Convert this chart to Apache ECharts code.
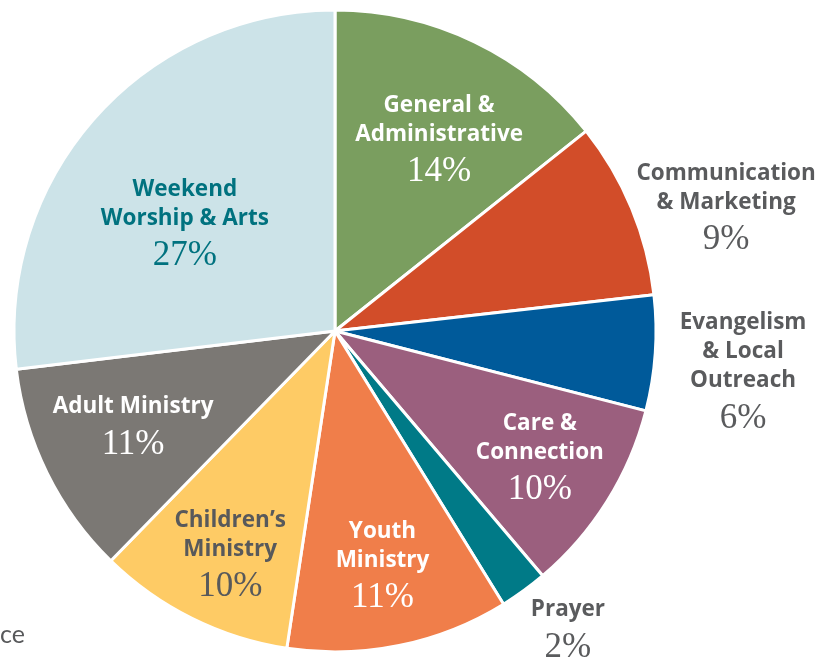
<!DOCTYPE html>
<html>
<head>
<meta charset="utf-8">
<script src="https://cdn.jsdelivr.net/npm/echarts@6/dist/echarts.min.js"></script>
<style>
html,body{margin:0;padding:0;background:#fff;}
#chart{width:835px;height:659px;}
</style>
</head>
<body>
<div id="chart"></div>
<script>
// Data
const categories = [
  'General &\nAdministrative',
  'Communication\n& Marketing',
  'Evangelism\n& Local\nOutreach',
  'Care &\nConnection',
  'Prayer',
  'Youth\nMinistry',
  'Children\u2019s\nMinistry',
  'Adult Ministry',
  'Weekend\nWorship & Arts'
];
const values = [14.3, 8.9, 5.8, 9.8, 2.4, 11.2, 9.9, 10.8, 26.9];

// Styles (colours and label placement)
const colors = ['#7a9e5f', '#d24d29', '#005a9a', '#9b5f7e', '#007a87', '#f07e4a', '#fecb65', '#7b7874', '#cce3e8'];
const labelColors = ['#ffffff', '#5a5b5d', '#5a5b5d', '#ffffff', '#5a5b5d', '#ffffff', '#58595b', '#ffffff', '#00727f'];
const labelRadius = [0.683, 1.279, 1.277, 0.748, 1.176, 0.741, 0.765, 0.694, 0.578];
const labelAngleShift = [2.6, 4.8, 1.5, -0.6, -2.1, 0, -1.2, 1.3, -5.6];

const CX = 335, CY = 331, R = 321;
const total = values.reduce((a, b) => a + b, 0);
const midAngles = [];
let acc = 0;
values.forEach(v => { midAngles.push((acc + v / 2) / total * 360); acc += v; });

const chart = echarts.init(document.getElementById('chart'), null, {renderer: 'canvas'});
const option = {
  backgroundColor: '#ffffff',
  animation: false,
  graphic: [{
    type: 'text', left: 0, top: 622,
    style: {text: 'ce', fill: '#58595b', font: '25px Lato, sans-serif'}
  }],
  series: [{
    type: 'pie',
    center: [CX, CY],
    radius: [0, R],
    startAngle: 90,
    clockwise: true,
    avoidLabelOverlap: false,
    itemStyle: {borderColor: '#ffffff', borderWidth: 3},
    labelLine: {show: false},
    data: categories.map((c, i) => ({
      name: c,
      value: values[i],
      itemStyle: {color: colors[i]},
      label: {
        show: true,
        position: 'outside',
        formatter: p => '{n|' + p.name.split('\n').join('}\n{n|') + '}\n{p|' + Math.round(p.value) + '%}',
        rich: {
          n: {fontFamily: 'Open Sans', fontWeight: 'bold', fontSize: 22.5, lineHeight: 29, color: labelColors[i], align: 'center'},
          p: {fontFamily: 'Liberation Serif', fontSize: 35, lineHeight: 46, color: labelColors[i], align: 'center'}
        }
      },
      labelLine: {show: false}
    })),
    emphasis: {disabled: true},
    labelLayout: function (params) {
      const i = params.dataIndex;
      const a = (midAngles[i] + labelAngleShift[i]) * Math.PI / 180;
      const r = labelRadius[i] * R;
      return {
        x: CX + r * Math.sin(a),
        y: CY - r * Math.cos(a) + 5,
        align: 'center',
        verticalAlign: 'middle'
      };
    }
  }]
};
chart.setOption(option);
</script>
</body>
</html>
